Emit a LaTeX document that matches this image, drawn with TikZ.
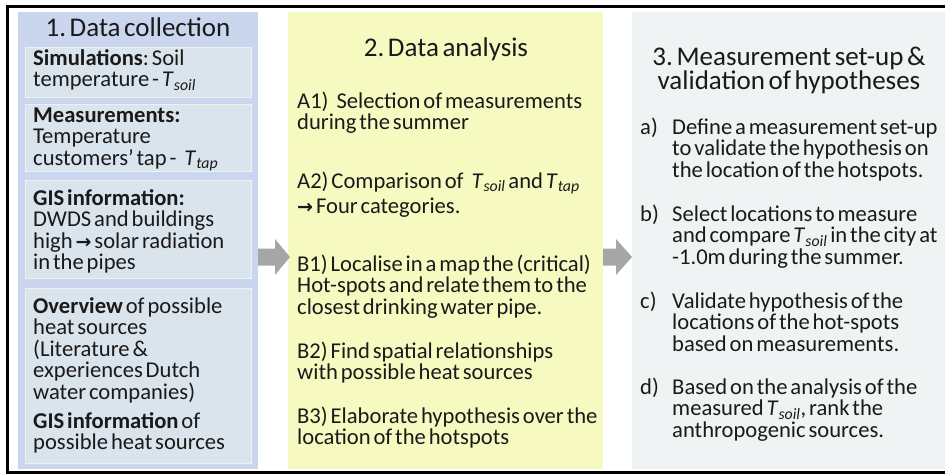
\documentclass[tikz,border=0pt]{standalone}
\usepackage{fontspec}
\setmainfont{Carlito}
\newfontfamily\symf{DejaVu Sans}
\definecolor{blueP}{RGB}{201,214,238}
\definecolor{boxc}{RGB}{218,228,236}
\definecolor{boxline}{RGB}{236,241,246}
\definecolor{yelP}{RGB}{246,250,192}
\definecolor{greyP}{RGB}{240,243,243}
\definecolor{arrc}{RGB}{166,166,166}
\definecolor{txtc}{RGB}{26,26,26}
\newcommand{\Tv}[1]{\textit{T}\textsubscript{\textit{#1}}}
\newcommand{\rarr}{{\symf\bfseries\fontsize{19}{19}\selectfont →}}
\newcommand{\wsp}{\hspace{8pt}}
\newcommand{\bodyfont}{\fontsize{22.6}{21.6}\selectfont}
\newcommand{\ttlfont}{\fontsize{27}{23}\selectfont}
\newcommand{\bodysk}{\spaceskip=2.9pt plus 1pt minus 0.5pt\xspaceskip=2.9pt plus 1pt}
\newcommand{\ttlsk}{\spaceskip=3.6pt plus 1pt minus 0.5pt\xspaceskip=3.6pt plus 1pt}
\tikzset{
  panel/.style={draw=none, inner sep=0, anchor=north west},
  subbox/.style={fill=boxc, draw=boxline, line width=1, inner sep=0, anchor=north west, minimum width=226},
  txt/.style={anchor=base west, align=flush left, inner sep=0, text width=330, font=\bodyfont, text=txtc, execute at begin node=\bodysk},
  ttl/.style={anchor=base, align=flush center, inner sep=0, text width=300, font=\ttlfont, text=txtc, execute at begin node=\ttlsk},
  blockarrow/.style={fill=arrc}
}
\begin{document}
\begin{tikzpicture}[x=1pt,y=-1pt]
\useasboundingbox (0,0) rectangle (945,475);
\clip (0,0) rectangle (945,475);
\fill[white] (0,0) rectangle (945,475);
% panels
\node[panel, fill=blueP, minimum width=240, minimum height=457] (p1) at (18,12) {};
\node[panel, fill=yelP, minimum width=315, minimum height=457] (p2) at (288,12) {};
\node[panel, fill=greyP, minimum width=330, minimum height=457] (p3) at (632,12) {};
% sub boxes of panel 1
\node[subbox, minimum height=50] (b1) at (25,47) {};
\node[subbox, minimum height=67] (b2) at (25,104) {};
\node[subbox, minimum height=98] (b3) at (25,180) {};
\node[subbox, minimum height=175] (b4) at (25,288) {};
% outer frame
\draw[line width=3, black] (7.5,6.5) rectangle (980,472.5);
% block arrows
\fill[blockarrow] (258,248.5) -- (275,248.5) -- (275,239) -- (290,257) -- (275,275) -- (275,265.5) -- (258,265.5) -- cycle;
\fill[blockarrow] (603,248.5) -- (616,248.5) -- (616,239) -- (632,257) -- (616,275) -- (616,265.5) -- (603,265.5) -- cycle;
% panel 1 text
\node[ttl] (t1) at (138,36) {1. Data collection};
\node[txt] (x1) at (33,65) {\textbf{Simulations}: Soil\\temperature - \Tv{soil}};
\node[txt] (x2) at (33,122) {\textbf{Measurements:}\\Temperature\\customers’ tap -\wsp\Tv{tap}};
\node[txt] (x3) at (33,205) {\textbf{GIS information:}\\DWDS and buildings\\high \rarr{} solar radiation\\in the pipes};
\node[txt] (x4) at (33,313) {\textbf{Overview} of possible\\heat sources\\(Literature \&\\experiences Dutch\\water companies)\\[7pt]\textbf{GIS information} of\\possible heat sources};
% panel 2 text
\node[ttl] (t2) at (446,56) {2. Data analysis};
\node[txt] (a1) at (297,108) {A1)\wsp Selection of measurements\\during the summer};
\node[txt] (a2) at (297,188) {A2) Comparison of\wsp\Tv{soil} and \Tv{tap}\\[4pt]\rarr{} Four categories.};
\node[txt] (c1) at (297,271) {B1) Localise in a map the (critical)\\Hot-spots and relate them to the\\closest drinking water pipe.};
\node[txt] (c2) at (297,358) {B2) Find spatial relationships\\with possible heat sources};
\node[txt] (c3) at (297,423) {B3) Elaborate hypothesis over the\\location of the hotspots};
% panel 3 text
\node[ttl] (t3) at (789,65) {3. Measurement set-up \&\\validation of hypotheses};
\node[txt] (la) at (640,134) {a)};
\node[txt] (ia) at (672,134) {Define a measurement set-up\\to validate the hypothesis on\\the location of the hotspots.};
\node[txt] (lb) at (640,221) {b)};
\node[txt] (ib) at (672,221) {Select locations to measure\\and compare \Tv{soil} in the city at\\-1.0m during the summer.};
\node[txt] (lc) at (640,308) {c)};
\node[txt] (ic) at (672,308) {Validate hypothesis of the\\locations of the hot-spots\\based on measurements.};
\node[txt] (ld) at (640,394) {d)};
\node[txt] (id) at (672,394) {Based on the analysis of the\\measured \Tv{soil}, rank the\\anthropogenic sources.};
\end{tikzpicture}
\end{document}
